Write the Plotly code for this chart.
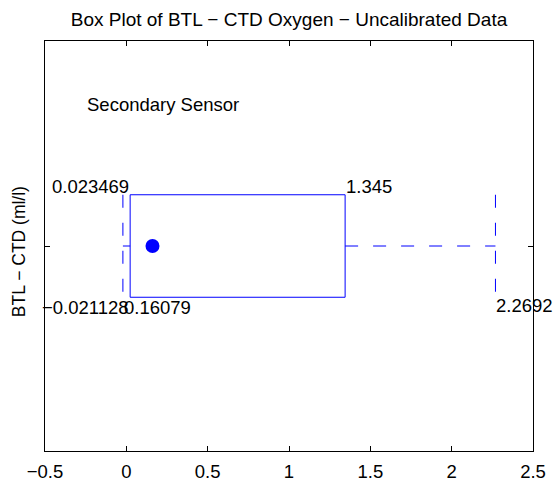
import plotly.graph_objects as go

# Summary statistics of BTL - CTD oxygen differences (ml/l)
lower_whisker = -0.021128
q1 = 0.023469
median = 0.16079
q3 = 1.345
upper_whisker = 2.2692

# Vertical placement of the single horizontal box
center_y = 1.0
half_height = 0.25

x_ticks = [-0.5, 0, 0.5, 1, 1.5, 2, 2.5]
x_tick_text = ["\u22120.5", "0", "0.5", "1", "1.5", "2", "2.5"]

BLUE = "rgb(0,0,255)"
FONT = "Liberation Sans, Arial, Helvetica, sans-serif"
DASH = "13px,15px"


def fmt(v):
    return f"{v:.5g}".replace("-", "\u2212")


top = center_y + half_height
bot = center_y - half_height

fig = go.Figure()

# box outline
fig.add_trace(go.Scatter(
    x=[q1, q3, q3, q1, q1], y=[top, top, bot, bot, top],
    mode="lines", line=dict(color=BLUE, width=1), hoverinfo="skip"))

# whiskers
fig.add_trace(go.Scatter(
    x=[lower_whisker, q1, None, q3, upper_whisker],
    y=[center_y, center_y, None, center_y, center_y],
    mode="lines", line=dict(color=BLUE, width=1, dash=DASH), hoverinfo="skip"))

# whisker caps
fig.add_trace(go.Scatter(
    x=[lower_whisker, lower_whisker, None, upper_whisker, upper_whisker],
    y=[top, bot, None, top, bot],
    mode="lines", line=dict(color=BLUE, width=1, dash=DASH), hoverinfo="skip"))

# median point
fig.add_trace(go.Scatter(
    x=[median], y=[center_y], mode="markers",
    marker=dict(color=BLUE, size=14, line=dict(width=0))))

lab_font = dict(family=FONT, size=18.5, color="black")
annotations = [
    dict(x=q1, y=top, text=fmt(q1), xanchor="right", yanchor="middle",
         yshift=8),
    dict(x=q3, y=top, text=fmt(q3), xanchor="left", yanchor="middle",
         yshift=8),
    dict(x=q1, y=bot, text=fmt(lower_whisker), xanchor="right",
         yanchor="middle", yshift=-10),
    dict(x=lower_whisker, y=bot, text=fmt(median), xanchor="left",
         yanchor="middle", yshift=-10),
    dict(x=upper_whisker, y=bot, text=fmt(upper_whisker), xanchor="left",
         yanchor="middle", yshift=-8),
    dict(x=-0.25, y=1.69, text="Secondary Sensor", xanchor="left",
         yanchor="middle"),
]
for a in annotations:
    a.update(xref="x", yref="y", showarrow=False, font=lab_font,
             borderpad=0)

annotations.append(dict(
    xref="paper", yref="paper", x=-26 / 488, y=0.485, text="BTL \u2212 CTD (ml/l)",
    textangle=-90, showarrow=False, xanchor="center", yanchor="middle",
    font=dict(family=FONT, size=17.5, color="black")))

fig.update_layout(
    width=556, height=486,
    margin=dict(l=45, r=23, t=41, b=35, autoexpand=False),
    paper_bgcolor="white", plot_bgcolor="white",
    showlegend=False,
    title=dict(text="Box Plot of BTL \u2212 CTD Oxygen \u2212 Uncalibrated Data",
               x=289 / 556, xanchor="center", y=1 - 19 / 486, yanchor="middle",
               font=dict(family=FONT, size=19, color="black")),
    annotations=annotations,
    font=dict(family=FONT, size=18.5, color="black"),
)

fig.update_xaxes(
    range=[-0.5, 2.5], tickvals=x_ticks, ticktext=x_tick_text,
    ticks="inside", ticklen=5, tickcolor="black", tickwidth=1,
    ticklabelstandoff=4, automargin=False,
    showline=True, linecolor="black", linewidth=1, mirror="ticks",
    showgrid=False, zeroline=False, tickfont=dict(family=FONT, size=18.5))
fig.update_yaxes(
    range=[0, 2], tickvals=[center_y], showticklabels=False, automargin=False,
    ticks="inside", ticklen=5, tickcolor="black", tickwidth=1,
    showline=True, linecolor="black", linewidth=1, mirror="ticks",
    showgrid=False, zeroline=False)

fig.write_html("out.html")
